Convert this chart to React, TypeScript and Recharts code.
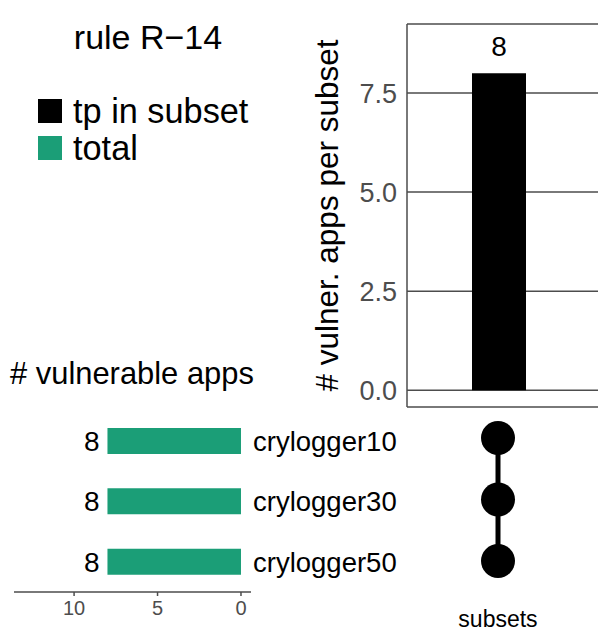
import React from "react";
import { Bar, BarChart, CartesianGrid, Label, LabelList, Line, LineChart, XAxis, YAxis } from "recharts";

// intersection sizes (one subset: all three sets together)
const SUBSETS = ["crylogger10&crylogger30&crylogger50"];
const SUBSET_SIZES = [8];
const SUBSET_TICKS = [0, 2.5, 5, 7.5];

// set sizes
const SETS = ["crylogger10", "crylogger30", "crylogger50"];
const SET_TOTALS = [8, 8, 8];
const SET_TICKS = [0, 5, 10];

// membership of the single subset in each set
const MEMBERSHIP = [true, true, true];

const GREEN = "#1b9e77";
const GREY = "#4d4d4d";
const FONT = '"Liberation Sans", Arial, sans-serif';

const subsetData = SUBSETS.map((s, i) => ({ subset: s, size: SUBSET_SIZES[i] }));
const setData = SETS.map((s, i) => ({ set: s, total: SET_TOTALS[i] }));
const matrixData = SETS.map((s, i) => ({ set: s, pos: MEMBERSHIP[i] ? 0 : null }));

function YTitle(props: any) {
  const vb = props.viewBox;
  const x = vb.x + 8;
  const y = vb.y + vb.height / 2;
  return (
    <text x={x} y={y} transform={`rotate(-90 ${x} ${y})`} textAnchor="middle" fontSize={31.5} fill="#000">
      # vulner. apps per subset
    </text>
  );
}

export default function App() {
  return (
    <div style={{ position: "absolute", left: 0, top: 0, width: 598, height: 642, background: "#fff", fontFamily: FONT }}>
      {/* title + legend */}
      <svg width={598} height={642} style={{ position: "absolute", left: 0, top: 0 }}>
        <text x={148} y={49} textAnchor="middle" fontSize={34} fill="#000">
          rule R−14
        </text>
        <rect x={38} y={99} width={24} height={24} fill="#000" />
        <text x={73} y={123} fontSize={34.3} fill="#000">tp in subset</text>
        <rect x={38} y={136} width={24} height={24} fill={GREEN} />
        <text x={73} y={160} fontSize={34.3} fill="#000">total</text>
        <text x={10} y={384} fontSize={30.9} fill="#000"># vulnerable apps</text>
        <text x={498} y={627} textAnchor="middle" fontSize={23} fill="#000">subsets</text>
      </svg>

      {/* intersection size bars */}
      <div style={{ position: "absolute", left: 0, top: 0 }}>
        <BarChart width={598} height={420} data={subsetData} margin={{ top: 24, right: 0, bottom: 13, left: 330 }}>
          <CartesianGrid vertical={false} stroke={GREY} strokeWidth={1.5} />
          <XAxis dataKey="subset" hide padding={{ left: 0, right: 7 }} />
          <YAxis
            type="number"
            domain={[-0.42, 9.24]}
            ticks={SUBSET_TICKS}
            allowDataOverflow
            width={77}
            tickFormatter={(v: number) => v.toFixed(1)}
            tick={{ fill: GREY, fontSize: 27 }}
            tickLine={false}
            tickMargin={4}
            axisLine={{ stroke: GREY, strokeWidth: 1.5 }}
          >
            <Label content={<YTitle />} />
          </YAxis>
          <Bar dataKey="size" fill="#000" barSize={54} isAnimationActive={false}>
            <LabelList dataKey="size" position="top" offset={17} fill="#000" fontSize={28} />
          </Bar>
        </BarChart>
      </div>

      {/* set size bars */}
      <div style={{ position: "absolute", left: 0, top: 380 }}>
        <BarChart
          width={420}
          height={262}
          data={setData}
          layout="vertical"
          margin={{ top: 31, right: 9, bottom: 20, left: 14 }}
        >
          <XAxis
            type="number"
            domain={[-0.6, 13.6]}
            ticks={SET_TICKS}
            reversed
            allowDataOverflow
            height={30}
            tick={{ fill: GREY, fontSize: 20 }}
            tickLine={{ stroke: GREY, strokeWidth: 1.5 }}
            tickSize={4}
            tickMargin={5}
            axisLine={{ stroke: GREY, strokeWidth: 1.5 }}
          />
          <YAxis
            type="category"
            dataKey="set"
            orientation="right"
            width={160}
            tickLine={false}
            axisLine={false}
            tickSize={0}
            tickMargin={2}
            tick={{ fill: "#000", fontSize: 27.5, textAnchor: "start" }}
          />
          <Bar dataKey="total" fill={GREEN} barSize={26} isAnimationActive={false}>
            <LabelList dataKey="total" position="right" offset={8} fill="#000" fontSize={28} />
          </Bar>
        </BarChart>
      </div>

      {/* membership matrix */}
      <div style={{ position: "absolute", left: 420, top: 380 }}>
        <LineChart
          width={178}
          height={262}
          data={matrixData}
          layout="vertical"
          margin={{ top: 58, right: 22, bottom: 81, left: 0 }}
        >
          <XAxis type="number" domain={[-1, 1]} hide />
          <YAxis type="category" dataKey="set" hide />
          <Line
            dataKey="pos"
            stroke="#000"
            strokeWidth={5}
            dot={{ r: 17, fill: "#000", stroke: "#000", strokeWidth: 0 }}
            isAnimationActive={false}
          />
        </LineChart>
      </div>
    </div>
  );
}
